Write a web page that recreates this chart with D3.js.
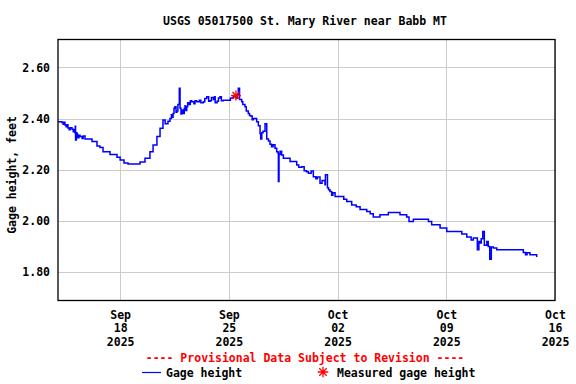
<!DOCTYPE html>
<html>
<head>
<meta charset="utf-8">
<script src="https://cdn.jsdelivr.net/npm/d3@7"></script>
<style>
  body { margin: 0; background: #fff; }
  text { font-family: "DejaVu Sans Mono", monospace; font-weight: bold; font-size: 11.5px; }
</style>
</head>
<body>
<svg id="chart"></svg>
<script>

const width = 576;
const height = 384;
const margin = { left: 58, right: 21, top: 39.5, bottom: 83.5 };

const title = "USGS 05017500 St. Mary River near Babb MT";
const yLabel = "Gage height, feet";
const provisional = "---- Provisional Data Subject to Revision ----";

// days after 2025-09-14 00:00
const dayOffset = [
  0.00, 0.26, 0.33, 0.38, 0.45, 0.52, 0.58, 0.64, 0.72, 0.78, 0.90, 0.98, 1.04, 1.09, 1.11, 1.13,
  1.18, 1.22, 1.26, 1.29, 1.35, 1.42, 1.55, 1.62, 1.74, 2.19, 2.51, 2.70, 2.90, 3.35, 3.80, 4.00,
  4.25, 4.51, 4.96, 5.28, 5.60, 5.92, 6.12, 6.37, 6.57, 6.76, 6.90, 7.08, 7.21, 7.30, 7.36, 7.41,
  7.47, 7.53, 7.60, 7.66, 7.72, 7.81, 7.86, 7.92, 7.97, 8.07, 8.13, 8.18, 8.22, 8.29, 8.35, 8.45,
  8.52, 8.61, 8.75, 8.82, 8.93, 9.10, 9.20, 9.36, 9.45, 9.58, 9.70, 9.79, 9.88, 10.00, 10.08, 10.12,
  10.24, 10.33, 10.43, 10.52, 10.64, 10.97, 11.10, 11.29, 11.46, 11.55, 11.61, 11.69, 11.83, 11.90,
  12.04, 12.12, 12.25, 12.33, 12.40, 12.50, 12.58, 12.79, 12.90, 13.01, 13.05, 13.12, 13.20, 13.33,
  13.44, 13.55, 13.65, 13.75, 13.85, 13.97, 14.08, 14.17, 14.19, 14.23, 14.30, 14.40, 14.51, 14.94,
  15.37, 15.50, 15.69, 15.85, 16.00, 16.12, 16.30, 16.44, 16.60, 16.70, 16.87, 17.00, 17.19, 17.22,
  17.35, 17.42, 17.51, 17.62, 17.70, 17.84, 18.27, 18.40, 18.59, 18.91, 19.20, 19.45, 19.88, 20.10,
  20.30, 20.73, 21.27, 21.59, 22.02, 22.45, 22.60, 22.88, 23.52, 23.85, 24.06, 24.60, 25.03, 26.00,
  26.32, 26.60, 26.74, 27.00, 27.10, 27.17, 27.25, 27.35, 27.45, 27.61, 27.70, 27.80, 27.90, 28.03,
  28.25, 29.53, 29.96, 30.10, 30.20, 30.39, 30.82
];
const gageFt = [
  2.388, 2.385, 2.378, 2.386, 2.375, 2.368, 2.376, 2.363, 2.356, 2.364, 2.358, 2.348, 2.356, 2.345, 2.370, 2.316,
  2.345, 2.340, 2.326, 2.325, 2.335, 2.330, 2.322, 2.332, 2.320, 2.310, 2.293, 2.287, 2.270, 2.260, 2.249, 2.238,
  2.226, 2.222, 2.222, 2.230, 2.245, 2.270, 2.297, 2.330, 2.362, 2.394, 2.380, 2.390, 2.400, 2.415, 2.405, 2.420,
  2.440, 2.446, 2.425, 2.430, 2.455, 2.518, 2.440, 2.418, 2.433, 2.420, 2.440, 2.450, 2.432, 2.446, 2.462, 2.455,
  2.470, 2.466, 2.458, 2.470, 2.466, 2.472, 2.462, 2.466, 2.478, 2.485, 2.468, 2.470, 2.482, 2.475, 2.485, 2.462,
  2.468, 2.480, 2.485, 2.470, 2.472, 2.472, 2.480, 2.490, 2.480, 2.495, 2.518, 2.475, 2.466, 2.455,
  2.446, 2.430, 2.420, 2.412, 2.410, 2.395, 2.400, 2.388, 2.372, 2.342, 2.320, 2.345, 2.350, 2.380,
  2.320, 2.312, 2.300, 2.290, 2.298, 2.284, 2.270, 2.265, 2.154, 2.260, 2.272, 2.258, 2.245, 2.232,
  2.219, 2.210, 2.212, 2.196, 2.192, 2.186, 2.195, 2.173, 2.165, 2.172, 2.147, 2.158, 2.141, 2.180,
  2.130, 2.122, 2.115, 2.100, 2.110, 2.095, 2.095, 2.085, 2.076, 2.062, 2.055, 2.045, 2.037, 2.028,
  2.015, 2.024, 2.033, 2.033, 2.024, 2.015, 1.998, 2.007, 2.007, 1.998, 1.985, 1.972, 1.959, 1.949,
  1.937, 1.925, 1.933, 1.887, 1.920, 1.914, 1.930, 1.959, 1.905, 1.920, 1.900, 1.850, 1.898, 1.894,
  1.887, 1.887, 1.877, 1.868, 1.876, 1.868, 1.859
];

// measured gage height
const measuredDay = [11.46];
const measuredFt = [2.49];

const xTickDays = [4, 11, 18, 25, 32];
const yTicks = [1.80, 2.00, 2.20, 2.40, 2.60];

const start = Date.UTC(2025, 8, 14);
const toDate = d => new Date(start + d * 86400000);

const series = dayOffset.map((d, i) => ({ date: toDate(d), value: gageFt[i] }));
const measured = measuredDay.map((d, i) => ({ date: toDate(d), value: measuredFt[i] }));

const svg = d3.select("#chart")
              .attr("width", width)
              .attr("height", height);

const x = d3.scaleUtc()
            .domain([toDate(0), toDate(32)])
            .range([margin.left, width - margin.right]);

const y = d3.scaleLinear()
            .domain([1.689, 2.709])
            .range([height - margin.bottom, margin.top]);

// grid
svg.append("g")
   .selectAll("line.h")
   .data(yTicks)
   .enter()
   .append("line")
   .attr("x1", margin.left).attr("x2", width - margin.right)
   .attr("y1", d => Math.round(y(d)) + 0.5).attr("y2", d => Math.round(y(d)) + 0.5)
   .attr("stroke", "#cccccc");

svg.append("g")
   .selectAll("line.v")
   .data(xTickDays)
   .enter()
   .append("line")
   .attr("x1", d => Math.round(x(toDate(d))) + 0.5).attr("x2", d => Math.round(x(toDate(d))) + 0.5)
   .attr("y1", margin.top).attr("y2", height - margin.bottom)
   .attr("stroke", "#cccccc");

// data line
const line = d3.line()
               .x(d => x(d.date))
               .y(d => y(d.value))
               .curve(d3.curveStepAfter);

svg.append("path")
   .datum(series)
   .attr("fill", "none")
   .attr("stroke", "#0000ff")
   .attr("stroke-width", 1.5)
   .attr("d", line);

// asterisk marker
const star = {
  draw(ctx, size) {
    const r = Math.sqrt(size) / 2;
    const k = r * Math.SQRT1_2;
    ctx.moveTo(-r, 0); ctx.lineTo(r, 0);
    ctx.moveTo(0, -r); ctx.lineTo(0, r);
    ctx.moveTo(-k, -k); ctx.lineTo(k, k);
    ctx.moveTo(-k, k); ctx.lineTo(k, -k);
  }
};

svg.selectAll("path.meas")
   .data(measured)
   .enter()
   .append("path")
   .attr("class", "meas")
   .attr("transform", d => `translate(${x(d.date)},${y(d.value)})`)
   .attr("d", d3.symbol(star, 100)())
   .attr("stroke", "#ff0000")
   .attr("stroke-width", 1.3)
   .attr("fill", "none");

// frame
svg.append("rect")
   .attr("x", margin.left)
   .attr("y", margin.top)
   .attr("width", width - margin.left - margin.right)
   .attr("height", height - margin.top - margin.bottom)
   .attr("fill", "none")
   .attr("stroke", "#000")
   .attr("stroke-width", 1.3);

// axes
const yAxis = d3.axisLeft(y)
                .tickValues(yTicks)
                .tickFormat(d3.format(".2f"))
                .tickSize(0)
                .tickPadding(8);

svg.append("g")
   .attr("transform", `translate(${margin.left},0)`)
   .call(yAxis)
   .call(g => g.select(".domain").remove())
   .selectAll("text")
   .attr("fill", "#000")
   .style("font-size", "11.5px")
   .style("font-family", "DejaVu Sans Mono, monospace");

const monthFmt = d3.utcFormat("%b");
const dayFmt = d3.utcFormat("%d");
const yearFmt = d3.utcFormat("%Y");

const xAxis = d3.axisBottom(x)
                .tickValues(xTickDays.map(toDate))
                .tickSize(0)
                .tickFormat("");

const xg = svg.append("g")
   .attr("transform", `translate(0,${height - margin.bottom})`)
   .call(xAxis);
xg.select(".domain").remove();

xg.selectAll(".tick text").remove();
xg.selectAll(".tick")
  .append("text")
  .attr("text-anchor", "middle")
  .attr("fill", "#000")
  .each(function(d) {
    const t = d3.select(this);
    t.append("tspan").attr("x", 0).attr("y", 18).text(monthFmt(d));
    t.append("tspan").attr("x", 0).attr("y", 31.5).text(dayFmt(d));
    t.append("tspan").attr("x", 0).attr("y", 45).text(yearFmt(d));
  });

// titles
svg.append("text")
   .attr("x", 305)
   .attr("y", 25)
   .attr("text-anchor", "middle")
   .text(title);

svg.append("text")
   .attr("transform", "translate(16,175) rotate(-90)")
   .attr("text-anchor", "middle")
   .text(yLabel);

// legend
svg.append("text")
   .attr("x", 305)
   .attr("y", 362)
   .attr("text-anchor", "middle")
   .attr("fill", "#ff0000")
   .text(provisional);

svg.append("line")
   .attr("x1", 142).attr("x2", 161)
   .attr("y1", 372.5).attr("y2", 372.5)
   .attr("stroke", "#0000ff")
   .attr("stroke-width", 1.2);

svg.append("text")
   .attr("x", 166)
   .attr("y", 377)
   .text("Gage height");

svg.append("path")
   .attr("transform", "translate(323,372)")
   .attr("d", d3.symbol(star, 110)())
   .attr("stroke", "#ff0000")
   .attr("stroke-width", 1.3)
   .attr("fill", "none");

svg.append("text")
   .attr("x", 337)
   .attr("y", 377)
   .text("Measured gage height");

</script>
</body>
</html>
